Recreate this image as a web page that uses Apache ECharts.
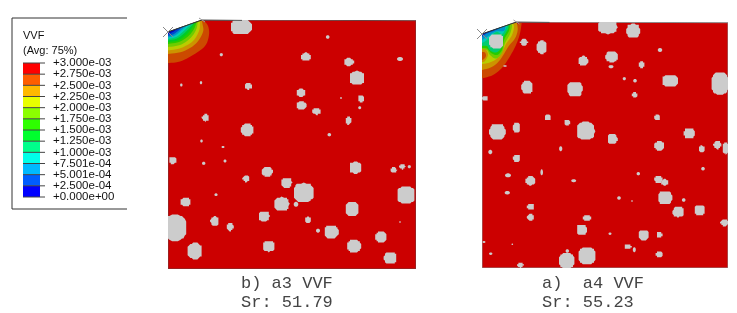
<!DOCTYPE html>
<html>
<head>
<meta charset="utf-8">
<style>
html,body{margin:0;padding:0;background:#fff}
#c{width:737px;height:313px;filter:blur(0.35px)}
</style>
<script src="https://cdn.jsdelivr.net/npm/echarts@6/dist/echarts.min.js"></script>
</head>
<body>
<div id="c"></div>
<script>
// Legend
const tickLabels = ['+3.000e-03','+2.750e-03','+2.500e-03','+2.250e-03','+2.000e-03','+1.750e-03','+1.500e-03','+1.250e-03','+1.000e-03','+7.501e-04','+5.001e-04','+2.500e-04','+0.000e+00'];
const legendColors = ['#ff0000','#ff5d00','#ffb900','#e8ff00','#8bff00','#2eff00','#00ff2e','#00ff8b','#00ffe8','#00b9ff','#005dff','#0000ff'];
const plotColors = ['#cc0000','#cc4a00','#cc9400','#bacc00','#6fcc00','#25cc00','#00cc25','#00cc6f','#00ccba','#0094cc','#004acc','#0000cc'];

// Mesh outlines (mesh units)
const meshA3 = [[0,12],[34,0],[248,0.7],[248,249],[0,249]];
const meshA4 = [[0,12],[34.5,0],[246,0.7],[246,246],[0,246]];

// Contour curves: [legend band index, points]
const contourA3 = [
 [1,[[0,43],[12,41.5],[25,35],[37,26],[41,15],[40,6],[35.5,0]]],
 [2,[[0,34],[15,31.5],[28,23.5],[35,12],[34.5,4],[33.5,0.2]]],
 [3,[[0,30.5],[13,28],[25,21],[31,11],[32,3],[32,0.6]]],
 [4,[[0,27],[12,25],[22,18.5],[28,10],[30,1.2]]],
 [5,[[0,24],[11,22],[20,16.5],[26,9],[28.5,1.8]]],
 [6,[[0,22],[10,20.5],[18,15],[24,8],[27,2.4]]],
 [7,[[0,20.5],[9,18.5],[16,13.5],[22,7.5],[26,2.8]]],
 [8,[[0,19],[8,17],[14,12.5],[20,7],[24.5,3.3]]],
 [9,[[0,17.5],[7,15.5],[12,11.5],[17,7],[22,4.3]]],
 [10,[[0,16],[6,14],[10,11],[14,7.5],[19,5.3]]],
 [11,[[0,14],[5,12],[8,10],[12,7.8],[16,6.4]]]
];
const contourA4 = [
 [1,[[0,56.3],[11,53],[21,44.7],[29.7,31.3],[34.7,21.3],[38,11.3],[39.7,0.7]]],
 [2,[[0,48],[9.7,45],[18,38],[26.3,24.7],[33,16.3],[35.7,8],[34.7,0.2]]],
 [3,[[0,42],[6,41],[13,38],[19,32],[24,22],[30,13],[32,5],[31,1.3]]],
 [4,[[0,29],[5,28],[8,33],[14,36.5],[20,31],[23,21],[28,12],[30,4],[29,1.8]]],
 [5,[[0,26],[5,26.5],[9,31],[15,33],[20,28],[22,18],[27,9],[28,2.2]]],
 [7,[[0,24],[5,24],[8,28.5],[14,30.5],[19,26],[21,16],[26,7],[26.5,2.7]]],
 [8,[[0,21],[5,18],[14,10],[20,12],[24,6],[25,3.2]]],
 [9,[[0,18],[5,15],[14,9.5],[22,9],[23.5,3.7]]],
 [10,[[0,15],[5,11.5],[14,8],[20,5],[22,4.2]]],
 [11,[[0,13.5],[4,11],[10,8.5],[16,6.4]]],
 [2,[[0,27],[4,28],[6,33],[3,39],[0,40]]],
 [1,[[0,30],[3,30.5],[4,34],[2,37],[0,38]]]
];

// Inclusions: [x, y, rx, ry]
const inclusionsA3 = [
 [73,7,10.5,7.5],[159.7,17,1.8,1.8],[53.3,34.7,1.6,1.6],[138,37,4.7,4.2],[180.7,42,5,3.8],[189,58,7.5,7],
 [232,39,3,2],[13.3,65,1.2,1.6],[33,62.7,1.2,1.6],[80.3,66.3,3.8,3.2],[133,72.7,4.5,4],[193,78.7,3,3.6],
 [173,78,0.9,0.9],[133.3,85.7,5,4.5],[148.7,91.3,4.5,3.3],[191.7,87.7,1.5,1.5],[180.3,100.7,3,3.8],[37.7,97.7,3.5,3.8],
 [79.3,110,6,6.2],[161.3,114.7,1.8,1.7],[33.5,121,1.3,1.5],[55,127,1.5,1.1],[4.7,140.3,4,3.8],[35.7,143.3,1.7,1.6],
 [57,141,1.5,1.5],[99.3,151.7,5.2,5],[187.3,147.7,6,5.8],[225.7,150,3.2,3],[234.3,146.7,3,2.5],[241.3,146.7,1.6,1.6],
 [78.3,158.7,3.5,3.2],[118.7,162.7,5.2,5],[135.7,172.5,10,9.5],[238,175,9,8.5],[48,174.7,1.6,1.4],[17.7,182,5.3,4.5],
 [113.7,184,7.5,7],[128,184.3,2.3,2.5],[184,189,6.8,7],[96,196.3,5.5,5],[46.7,201.3,4.3,4.8],[62,207,3.5,4],
 [140,199.7,3,3.2],[232,202,0.8,0.8],[150,210.7,2,2],[163.3,212,7,6.5],[7,207.7,11.5,13],[213,217,5.5,5.4],
 [186,226.3,6.8,6.2],[100.7,226.3,6,5.4],[26.7,231,7.2,8],[222.5,238,6.3,6]
];
const inclusionsA4 = [
 [125.7,5,9.5,7],[151.3,8.7,6.5,7],[14.3,19.3,7.3,7.3],[42,20.3,3.6,3.4],[59.7,25.3,5,6.5],[178,28,2.2,2],[129.7,34.7,6,5.5],
 [101.3,39,5,4.8],[159.7,42.7,3,3.3],[129,44.7,2.5,1.6],[23,44,1.8,0.8],[188,58.7,8,6],[142.3,56.7,1.6,1.6],[153,58.7,1.8,1.8],
 [238,61.3,8.5,11],[45.3,65.3,5.5,6.3],[93,67,7.5,7.5],[153,73,3,2.5],[3,76.3,2.5,2.8],[66,95.3,3.3,3],[175.3,95.3,3.2,3],
 [85.3,100.7,3,3],[34.7,105.7,3.6,5.5],[15.3,109.7,8,8],[103.7,108.7,9,9],[207.3,111.3,5.3,5.5],[130.3,117,5,5],
 [177.3,123.7,5,4.8],[219.7,127,3.2,3.2],[235.3,123,3.8,4],[243.7,126.3,3.2,6],[8.3,130,2,2.2],[78.7,126.7,1.6,2.5],
 [34.7,136.3,3.5,4],[221,146.7,1.8,1.8],[26,153.3,3,2],[59.7,150.3,1.3,3],[156.3,151.7,1.7,1.7],[48.7,158.7,5,4.6],
 [91.7,158.7,2.5,1.5],[176.3,157.3,4,4],[182.7,160.3,3.5,3.3],[25.3,170.7,2.6,1.8],[183,175.7,7,6.5],[137,176,1.8,1.7],
 [150,179,0.8,0.8],[201.7,178,1.8,1.8],[48.7,184.7,3.5,3.3],[48.7,195.3,3.5,3.3],[196.3,190,5.3,5.3],[217.7,188,5.3,5.2],
 [105,195.7,4,3],[242.3,200.7,3.7,3.4],[99.7,207.7,5,5.2],[128,211.7,1.5,1.2],[161.7,213,5,5],[177.3,213,3,3],
 [145.7,224.7,3.5,2.6],[152.3,227.7,1.5,2.5],[30.3,222.3,0.8,0.8],[2,220,1.4,1],[8.7,231.7,1.7,1.2],[177.3,232.3,3.5,3.3],
 [105,234,8.3,8.5],[84.7,238.7,7.5,7.8],[85.3,229,1.7,1.8],[38.3,243.3,3.1,2.5]
];

function spline(p){
  const out=[];
  for(let i=0;i<p.length-1;i++){
    const a=p[Math.max(i-1,0)],b=p[i],c=p[i+1],d=p[Math.min(i+2,p.length-1)];
    for(let k=0;k<6;k++){
      const t=k/6,t2=t*t,t3=t2*t;
      out.push([0,1].map(j=>0.5*(2*b[j]+(c[j]-a[j])*t+(2*a[j]-5*b[j]+4*c[j]-d[j])*t2+(3*b[j]-a[j]-3*c[j]+d[j])*t3)));
    }
  }
  out.push(p[p.length-1]);
  return out;
}

function panelSeries(idx, mesh, contours, inclusions, edge){
  const corner = mesh[0], tip = mesh[1];
  const base = {type:'custom',coordinateSystem:'cartesian2d',xAxisIndex:idx,yAxisIndex:idx,silent:true,clip:true,animation:false};
  return [
    Object.assign({},base,{
      data:[[0,0]],
      renderItem(p,api){
        return {type:'polygon',shape:{points:mesh.map(q=>api.coord(q))},style:{fill:plotColors[0],stroke:edge,lineWidth:1}};
      }
    }),
    Object.assign({},base,{
      data:contours.map((c,i)=>[i,c[0]]),
      renderItem(p,api){
        const c=contours[p.dataIndex];
        const pts=spline(c[1]).concat([corner]).map(q=>api.coord(q));
        return {type:'polygon',shape:{points:pts},style:{fill:plotColors[c[0]]}};
      }
    }),
    Object.assign({},base,{
      data:inclusions,
      renderItem(p,api){
        const x=api.value(0),y=api.value(1),rx=api.value(2),ry=api.value(3);
        const cell=1.4,pts=[],n=32,r=Math.min(rx,ry),snap=r>=2.5,e=r>=5?0.75:1;
        for(let i=0;i<n;i++){
          const a=i/n*Math.PI*2,c=Math.cos(a),s=Math.sin(a);
          let px=x+rx*Math.sign(c)*Math.pow(Math.abs(c),e),py=y+ry*Math.sign(s)*Math.pow(Math.abs(s),e);
          if(snap){px=Math.round(px/cell)*cell;py=Math.round(py/cell)*cell;}
          pts.push(api.coord([px,py]));
        }
        return {type:'polygon',shape:{points:pts},style:{fill:'#cccccc'}};
      }
    }),
    Object.assign({},base,{
      clip:false,
      data:[[0,0]],
      renderItem(p,api){
        const a=api.coord(corner),b=api.coord(tip),e=api.coord([tip[0]+(idx?33:40),0.4]);
        return {type:'group',children:[
          {type:'line',shape:{x1:a[0],y1:a[1],x2:b[0],y2:b[1]},style:{stroke:'#333',lineWidth:1}},
          {type:'line',shape:{x1:b[0],y1:b[1],x2:e[0],y2:e[1]},style:{stroke:'#555',lineWidth:1}},
          {type:'line',shape:{x1:a[0]-5,y1:a[1]-5,x2:a[0]+5,y2:a[1]+5},style:{stroke:'#888',lineWidth:1}},
          {type:'line',shape:{x1:a[0]-5,y1:a[1]+5,x2:a[0]+5,y2:a[1]-5},style:{stroke:'#888',lineWidth:1}},
          {type:'line',shape:{x1:b[0]-3,y1:b[1]-2,x2:b[0]+3,y2:b[1]+2},style:{stroke:'#999',lineWidth:1}}
        ]};
      }
    })
  ];
}

const legendBase = {type:'custom',coordinateSystem:'cartesian2d',xAxisIndex:2,yAxisIndex:2,silent:true,animation:false,clip:false};
const legendSeries = Object.assign({},legendBase,{
  data:legendColors.map((c,i)=>[0,11-i]),
  renderItem(p,api){
    const v=api.value(1),a=api.coord([0,v+1]),b=api.coord([1,v]);
    return {type:'rect',shape:{x:a[0],y:a[1],width:b[0]-a[0],height:b[1]-a[1]},style:{fill:legendColors[p.dataIndex]}};
  }
});
const legendTicks = Object.assign({},legendBase,{
  data:tickLabels.map((t,i)=>[0,12-i]),
  renderItem(p,api){
    const a=api.coord([0,api.value(1)]),b=api.coord([1,api.value(1)]);
    return {type:'group',children:[
      {type:'line',shape:{x1:a[0],y1:a[1],x2:b[0]+5,y2:b[1]},style:{stroke:'#444',lineWidth:1}},
      {type:'text',x:b[0]+13,y:b[1],style:{text:tickLabels[p.dataIndex],fontFamily:'Liberation Sans',fontSize:11.5,fill:'#111',align:'left',verticalAlign:'middle'}}
    ]};
  }
});

const hidden = (g,max,inv)=>({type:'value',gridIndex:g,min:0,max:max,show:false,inverse:!!inv});
const capFont = {fontFamily:'Liberation Mono',fontSize:17,fontWeight:'normal',color:'#444'};
const sansFont = {fontFamily:'Liberation Sans',fontSize:11,fontWeight:'normal',color:'#111'};

const chart = echarts.init(document.getElementById('c'),null,{renderer:'canvas'});
chart.setOption({
  animation:false,
  backgroundColor:'#fff',
  title:[
    {text:'VVF',left:23,top:30,padding:0,textStyle:sansFont},
    {text:'(Avg: 75%)',left:23,top:45,padding:0,textStyle:sansFont},
    {text:'b) a3 VVF',left:241,top:275,padding:0,textStyle:capFont},
    {text:'Sr: 51.79',left:241,top:294,padding:0,textStyle:capFont},
    {text:'a)  a4 VVF',left:542,top:275,padding:0,textStyle:capFont},
    {text:'Sr: 55.23',left:542,top:294,padding:0,textStyle:capFont}
  ],
  grid:[
    {left:168,top:20,width:248,height:249},
    {left:482,top:22,width:246,height:246},
    {left:23,top:63,width:17,height:134}
  ],
  xAxis:[hidden(0,248),hidden(1,246),{type:'value',gridIndex:2,min:0,max:1,show:false}],
  yAxis:[hidden(0,249,true),hidden(1,246,true),{type:'value',gridIndex:2,min:0,max:12,interval:1,show:false}],
  graphic:[{type:'polyline',silent:true,shape:{points:[[127,18],[12,18],[12,209],[127,209]]},style:{fill:null,stroke:'#333',lineWidth:1}}],
  series:[
    ...panelSeries(0,meshA3,contourA3,inclusionsA3,'#6a4040'),
    ...panelSeries(1,meshA4,contourA4,inclusionsA4,'#8a8a8a'),
    legendSeries,legendTicks
  ]
});
</script>
</body>
</html>
